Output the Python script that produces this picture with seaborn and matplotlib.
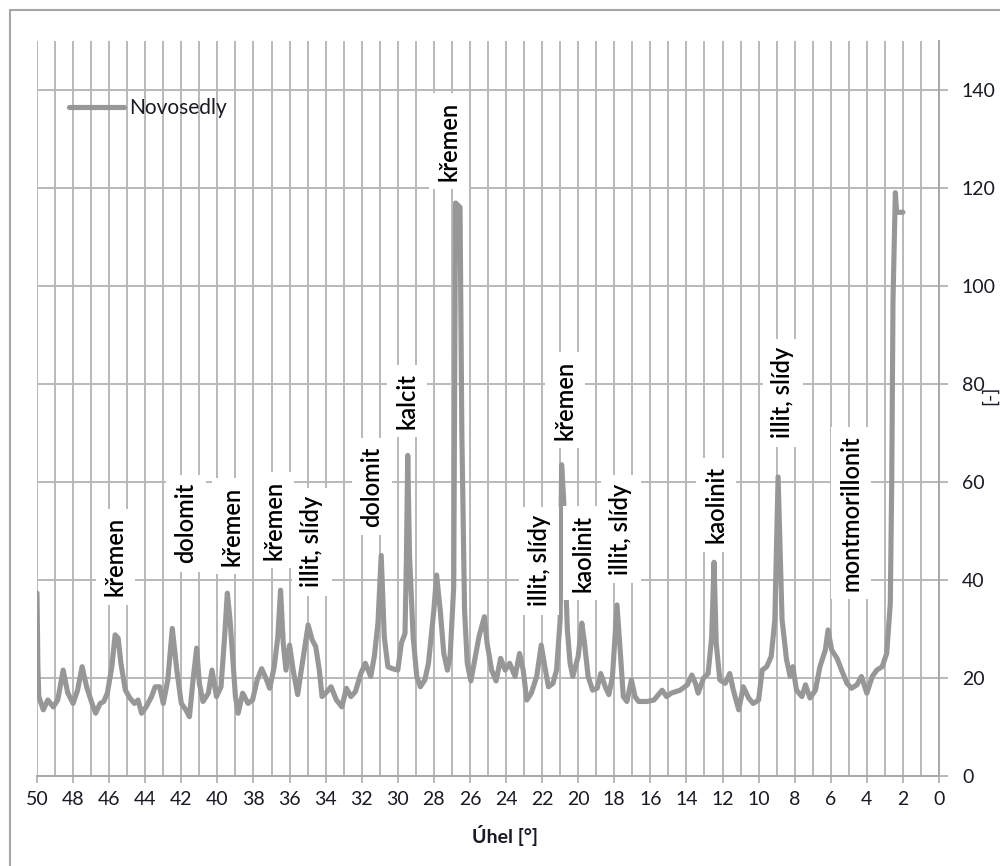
import matplotlib
matplotlib.use("Agg")
import matplotlib.pyplot as plt
import matplotlib.patches as patches
import seaborn as sns
import pandas as pd

# ---- data ----
angles = [50.0, 49.95, 49.9, 49.65, 49.4, 49.1, 48.85, 48.55, 48.3, 48.0, 47.75, 47.5, 47.25,
          46.95, 46.75, 46.5, 46.3, 46.1, 45.85, 45.67, 45.5, 45.35, 45.1, 44.85, 44.6, 44.4,
          44.2, 43.95, 43.65, 43.45, 43.2, 43.0, 42.75, 42.5, 42.25, 42.0, 41.75, 41.55, 41.35,
          41.15, 41.0, 40.8, 40.5, 40.3, 40.05, 39.8, 39.6, 39.45, 39.3, 39.0, 38.85, 38.6,
          38.3, 38.05, 37.8, 37.55, 37.35, 37.1, 36.85, 36.65, 36.5, 36.35, 36.2, 36.0, 35.8,
          35.55, 35.35, 35.15, 34.97, 34.75, 34.55, 34.35, 34.2, 34.0, 33.7, 33.4, 33.1, 32.85,
          32.6, 32.35, 32.05, 31.8, 31.5, 31.3, 31.1, 30.92, 30.75, 30.55, 30.3, 30.0, 29.8,
          29.6, 29.52, 29.45, 29.35, 29.15, 28.95, 28.75, 28.5, 28.3, 28.0, 27.85, 27.65, 27.45,
          27.25, 27.1, 26.9, 26.8, 26.55, 26.45, 26.3, 26.15, 25.95, 25.7, 25.5, 25.2, 25.05,
          24.8, 24.55, 24.3, 24.05, 23.8, 23.5, 23.25, 23.05, 22.85, 22.6, 22.3, 22.05, 21.85,
          21.65, 21.4, 21.2, 21.0, 20.92, 20.8, 20.7, 20.6, 20.45, 20.3, 20.0, 19.8, 19.65,
          19.45, 19.2, 18.95, 18.75, 18.5, 18.3, 18.1, 17.85, 17.65, 17.5, 17.3, 17.05, 16.85,
          16.65, 16.2, 15.8, 15.35, 15.1, 14.85, 14.35, 13.95, 13.7, 13.5, 13.35, 13.05, 12.8,
          12.6, 12.47, 12.35, 12.15, 11.85, 11.6, 11.4, 11.1, 10.85, 10.55, 10.3, 10.0, 9.8,
          9.55, 9.3, 9.1, 8.92, 8.7, 8.45, 8.25, 8.1, 7.9, 7.6, 7.4, 7.15, 6.85, 6.6, 6.3,
          6.15, 5.95, 5.65, 5.4, 5.1, 4.85, 4.55, 4.3, 4.0, 3.7, 3.45, 3.15, 2.9, 2.7, 2.62,
          2.55, 2.42, 2.35, 2.0]
intensity = [37.3, 22, 16.2, 13.5, 15.5, 14.1, 15.5, 21.6, 17, 14.8, 17.5, 22.3, 18.2,
             14.8, 12.8, 14.8, 15.2, 16.9, 22.3, 28.8, 28.1, 23, 17.5, 15.9, 14.8, 15.5,
             12.8, 14.1, 16.2, 18.2, 18.2, 14.8, 19.6, 30.1, 21.6, 14.8, 13.5, 12.1, 19.6,
             26.1, 18.9, 15.2, 16.9, 21.6, 16.2, 18.2, 28.4, 37.3, 31.9, 16.2, 12.8, 16.9,
             14.8, 15.5, 19.5, 21.9, 20.3, 17.9, 22.3, 28.4, 37.9, 27.1, 21.6, 26.7, 21.6,
             16.6, 21.6, 26.4, 30.8, 27.8, 26.4, 21.6, 16.2, 16.9, 18.2, 15.5, 14.1, 17.9,
             16.2, 17.2, 20.9, 23, 20.3, 24.4, 31.2, 45, 28.4, 22.3, 21.9, 21.6, 27.1,
             29.1, 45, 65.4, 45, 28.4, 20.3, 18.2, 19.6, 23, 33.9, 41, 33.9, 25,
             21.6, 24.4, 38.6, 116.9, 116, 70, 33.9, 23, 19.4, 24.4, 28.4, 32.5, 27.1,
             21.6, 19.4, 24, 21.6, 23, 20.3, 25, 21.6, 15.5, 16.9, 20.3, 26.7, 22.3,
             18.2, 18.9, 21.6, 31.9, 63.5, 56, 40, 29.8, 23, 20.3, 24.4, 31.2, 27.1,
             20.3, 17.5, 17.9, 20.9, 18.2, 16.6, 20.3, 34.9, 24.4, 16.2, 15.2, 19.6, 16.2,
             15.2, 15.2, 15.5, 17.5, 16.2, 16.9, 17.5, 18.6, 20.6, 18.9, 16.9, 20, 20.9,
             28.4, 43.6, 27.1, 19.6, 18.9, 20.9, 17.5, 13.5, 18.2, 15.9, 14.8, 15.5, 21.6,
             22.3, 24.4, 31.9, 61, 31.9, 23.7, 20.3, 22.3, 17.5, 16.2, 18.6, 15.9, 17.5, 22.3, 25.7,
             29.8, 25.7, 24, 21.6, 18.9, 17.9, 18.6, 20.3, 16.9, 20.3, 21.6, 22.3, 25, 35.2, 60,
             97, 119, 115, 115]
series_name = "Novosedly"

label_texts = ["křemen", "dolomit", "křemen", "křemen", "illit, slídy", "dolomit", "kalcit",
               "křemen", "illit, slídy", "křemen", "kaolinit", "illit, slídy", "kaolinit",
               "illit, slídy", "montmorillonit"]
label_angles = [45.65, 41.74, 39.19, 36.86, 34.76, 31.43, 29.49, 27.16, 22.17, 20.73, 19.73,
                17.63, 12.36, 8.65, 4.88]
label_heights = [44.7, 51.6, 51.0, 52.2, 47.8, 59.0, 76.5, 129.5, 43.9, 76.7, 45.5, 50.4,
                 55.3, 78.2, 53.7]

x_ticks = list(range(0, 51, 2))
y_ticks = list(range(0, 141, 20))

# ---- styling ----
sns.set_theme(style="white")
plt.rcParams["font.family"] = ["Lato", "DejaVu Sans"]

GRID = "#b9b9b9"
LINE = "#979797"
TXT = "#1a1a24"

fig = plt.figure(figsize=(10, 8.66), dpi=100)
ax = fig.add_axes([0.037, 1 - 776 / 866, 0.902, (776 - 40.7) / 866])

df = pd.DataFrame({"angle": angles, "intensity": intensity})
sns.lineplot(data=df, x="angle", y="intensity", ax=ax, color=LINE, linewidth=3.7,
             sort=False, estimator=None, label=series_name, zorder=3)

ax.set_xlim(50, 0)
ax.set_ylim(0, 150)
ax.set_xticks(x_ticks)
ax.set_xticks(range(0, 51), minor=True)
ax.set_yticks(y_ticks)
ax.yaxis.tick_right()
ax.grid(axis="x", which="both", color=GRID, linewidth=1.4, zorder=0)
ax.grid(axis="y", which="major", color=GRID, linewidth=1.4, zorder=0)
ax.set_axisbelow(True)
ax.tick_params(axis="x", which="major", direction="out", length=5, width=1.4, color=GRID,
               labelsize=14, labelcolor=TXT, pad=6, bottom=True)
ax.tick_params(axis="x", which="minor", length=0)
ax.tick_params(axis="y", which="major", direction="out", length=6.5, width=1.4, color=GRID,
               labelsize=14, labelcolor=TXT, pad=10, right=True, left=False)
for s in ["left", "top"]:
    ax.spines[s].set_visible(False)
for s in ["right", "bottom"]:
    ax.spines[s].set_color("#a8a8a8")
    ax.spines[s].set_linewidth(1.4)
ax.set_xlabel("")
ax.set_ylabel("")

leg = ax.legend(loc="center left", bbox_to_anchor=(0.036, 0.9085), frameon=False,
                fontsize=15, handlelength=2.6, handletextpad=0.25, borderpad=0,
                borderaxespad=0)
for t in leg.get_texts():
    t.set_color(TXT)

for txt, xa, ya in zip(label_texts, label_angles, label_heights):
    ax.text(xa, ya, txt, rotation=90, ha="center", va="center", fontsize=17,
            fontweight="semibold", color="black", zorder=6,
            bbox=dict(boxstyle="square,pad=0.35", facecolor="white", edgecolor="none"))

fig.text(0.505, 1 - 835 / 866, "Úhel [°]", ha="center", va="center", fontsize=14,
         fontweight="bold", color=TXT)
fig.text(0.981, 1 - 395 / 866, "[-]", rotation=90, ha="left", va="center", fontsize=14,
         color=TXT)

fig.patches.append(patches.Rectangle((0.01, -0.1), 1.5, 1.1 - 10 / 866, transform=fig.transFigure,
                                     fill=False, edgecolor="#a6a6a6", linewidth=1.5))

fig.savefig("out.png", dpi=100)
